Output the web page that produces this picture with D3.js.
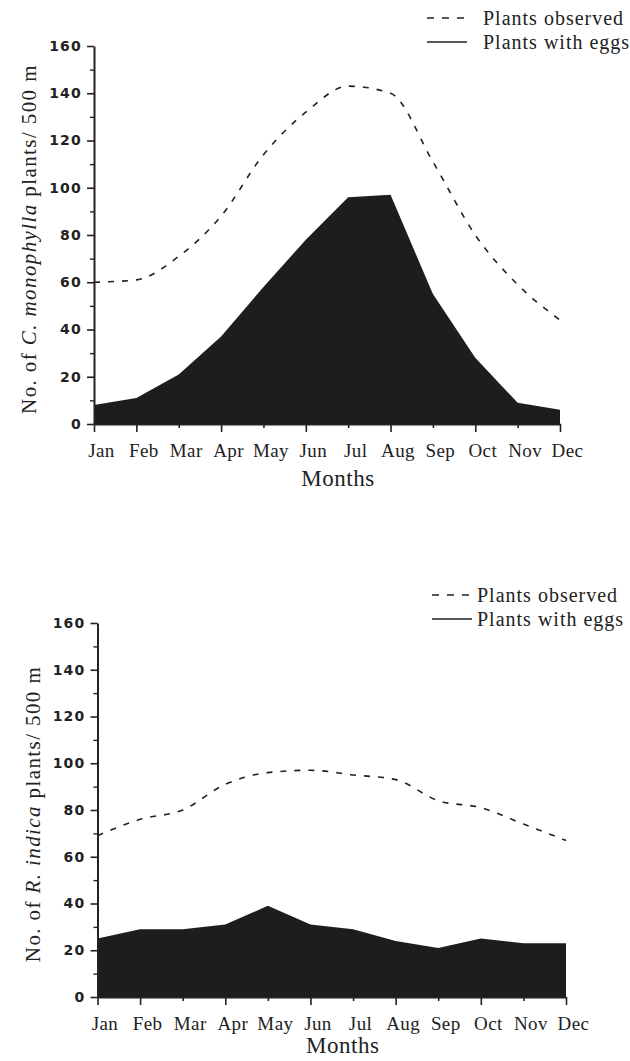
<!DOCTYPE html>
<html>
<head>
<meta charset="utf-8">
<script src="https://cdn.jsdelivr.net/npm/d3@7"></script>
<style>
  body { margin: 0; background: #fff; }
  text { fill: #222; }
</style>
</head>
<body>
<div id="chart"></div>
<script>
// months on the x axis, and which of them get the long tick
var months = ["Jan","Feb","Mar","Apr","May","Jun","Jul","Aug","Sep","Oct","Nov","Dec"];
var longTickMonths = ["Jan","Feb","Apr","Jun","Aug","Oct","Dec"];
var yTicks = [0,20,40,60,80,100,120,140,160];
var yMinorTicks = [10,30,50,70,90,110,130,150];
var legendLabels = ["Plants observed","Plants with eggs"];

// C. monophylla (top panel)
var cmObserved = [60,61,71,88,114,132,143,140,111,80,59,44];
var cmEggs     = [8,11,21,37,58,78,96,97,55,28,9,6];

// R. indica (bottom panel)
var riObserved = [69,76,80,91,96,97,95,93,84,81,74,67];
var riEggs     = [25,29,29,31,39,31,29,24,21,25,23,23];

var serif = "'Liberation Serif', 'Times New Roman', Times, serif";

var svg = d3.select("#chart").append("svg")
  .attr("width", 630)
  .attr("height", 1061);

function drawPanel(p) {
  var x = d3.scalePoint().domain(months).range([p.left, p.right]);
  var y = d3.scaleLinear().domain([0,160]).range([p.bottom, p.top]);
  var g = svg.append("g");

  // filled area for plants with eggs
  var area = d3.area()
    .x(function(d,i){ return x(months[i]); })
    .y0(y(0))
    .y1(function(d){ return y(d); });
  g.append("path")
    .datum(p.eggs)
    .attr("d", area)
    .attr("fill", "#1f1c1c");

  // dashed line for plants observed
  var line = d3.line()
    .x(function(d,i){ return x(months[i]); })
    .y(function(d){ return y(d); })
    .curve(d3.curveMonotoneX);
  g.append("path")
    .datum(p.observed)
    .attr("d", line)
    .attr("fill", "none")
    .attr("stroke", "#222")
    .attr("stroke-width", 1.6)
    .attr("stroke-dasharray", "6,8");

  // y axis - minor ticks first, then the labelled ones
  g.append("g")
    .attr("transform", "translate(" + p.left + ",0)")
    .call(d3.axisLeft(y).tickValues(yMinorTicks).tickSize(4).tickFormat(""))
    .call(function(s){ s.select(".domain").remove(); })
    .selectAll("line").attr("stroke", "#222").attr("stroke-width", 1.4);

  var ya = g.append("g")
    .attr("transform", "translate(" + p.left + ",0)")
    .call(d3.axisLeft(y).tickValues(yTicks).tickSize(7).tickPadding(5).tickSizeOuter(0));
  ya.select(".domain").attr("stroke", "#222").attr("stroke-width", 2);
  ya.selectAll(".tick line").attr("stroke", "#222").attr("stroke-width", 1.6);
  ya.selectAll(".tick text")
    .style("font-family", "'DejaVu Sans', sans-serif")
    .style("font-weight", "bold")
    .style("font-size", "14px")
    .style("letter-spacing", "1.2px")
    .style("fill", "#222");

  // x axis
  var xa = g.append("g")
    .attr("transform", "translate(0," + p.bottom + ")")
    .call(d3.axisBottom(x).tickSize(7).tickSizeOuter(0));
  xa.select(".domain").attr("stroke", "#222").attr("stroke-width", 2);
  xa.selectAll(".tick line")
    .attr("stroke", "#222")
    .attr("stroke-width", 1.6)
    .attr("y2", function(d){ return longTickMonths.indexOf(d) >= 0 ? 8 : 4; });
  xa.selectAll(".tick text")
    .attr("y", 33)
    .attr("dy", null)
    .attr("dx", 7)
    .style("font-family", serif)
    .style("font-size", "19px")
    .style("letter-spacing", "0.4px")
    .style("fill", "#222");

  // axis titles
  g.append("text")
    .attr("x", (p.left + p.right) / 2 + 11)
    .attr("y", p.bottom + p.monthsDy)
    .attr("text-anchor", "middle")
    .style("font-family", serif)
    .style("font-size", "23px")
    .style("letter-spacing", "0.5px")
    .text("Months");

  var yt = g.append("text")
    .attr("transform", "translate(" + (p.left - 58) + "," + ((p.top + p.bottom) / 2 + 4) + ") rotate(-90)")
    .attr("text-anchor", "middle")
    .style("font-family", serif)
    .style("font-size", "21px")
    .style("letter-spacing", "1.4px");
  yt.append("tspan").text("No. of ");
  yt.append("tspan").style("font-style", "italic").text(p.species);
  yt.append("tspan").text(" plants/ 500 m");

  // legend
  var lg = g.append("g").attr("transform", "translate(" + p.legendX + "," + p.legendY + ")");
  lg.append("line")
    .attr("x1", 0).attr("x2", 39).attr("y1", 0).attr("y2", 0)
    .attr("stroke", "#222").attr("stroke-width", 1.5)
    .attr("stroke-dasharray", "7,8");
  lg.append("line")
    .attr("x1", 0).attr("x2", 40).attr("y1", 24).attr("y2", 24)
    .attr("stroke", "#222").attr("stroke-width", 1.5);
  lg.selectAll("text.lab")
    .data(legendLabels)
    .enter().append("text")
    .attr("class", "lab")
    .attr("x", p.legendTextDx)
    .attr("y", function(d,i){ return 7 + i * 24; })
    .style("font-family", serif)
    .style("font-size", "20px")
    .style("letter-spacing", "1px")
    .text(function(d){ return d; });
}

drawPanel({
  left: 94, right: 560, top: 46, bottom: 424,
  observed: cmObserved, eggs: cmEggs,
  species: "C. monophylla",
  monthsDy: 62,
  legendX: 427, legendY: 18, legendTextDx: 56
});

drawPanel({
  left: 97.5, right: 566, top: 623, bottom: 997,
  observed: riObserved, eggs: riEggs,
  species: "R. indica",
  monthsDy: 56,
  legendX: 432, legendY: 595, legendTextDx: 45
});
</script>
</body>
</html>
